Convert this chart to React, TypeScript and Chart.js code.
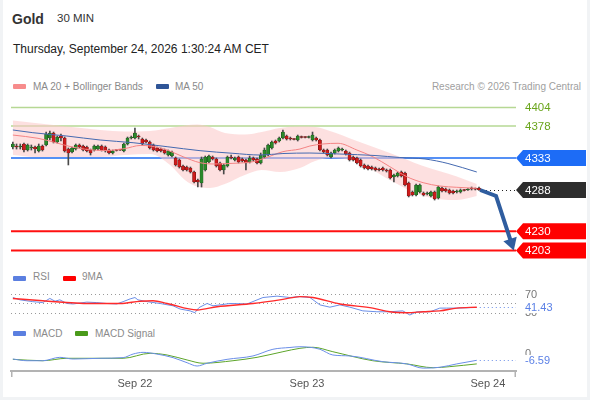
import React, { useEffect, useRef } from "react";
import { Chart, registerables } from "chart.js";

Chart.register(...registerables);

const FONT = "'Liberation Sans', Arial, Helvetica, sans-serif";

// ---------- Candles (30 MIN) ----------
const opens = [
  4348.5, 4349.9, 4348.5, 4352.7, 4344.2, 4347.1, 4348.5, 4342.8, 4349.9, 4351.3,
  4361.1, 4368.1, 4355.5, 4363.9, 4361.1, 4345.6, 4341.4, 4345.6, 4351.3, 4349.9,
  4348.5, 4344.2, 4344.2, 4345.6, 4349.9, 4348.5, 4344.2, 4340.0, 4344.2, 4344.2,
  4342.8, 4352.7, 4361.1, 4361.1, 4363.9, 4359.7, 4358.3, 4355.5, 4351.3, 4347.1,
  4345.6, 4344.2, 4337.2, 4335.8, 4333.0, 4330.2, 4321.7, 4320.3, 4318.9, 4313.3,
  4302.1, 4297.8, 4316.1, 4327.4, 4334.4, 4331.6, 4326.0, 4316.1, 4321.7, 4334.4,
  4330.2, 4334.4, 4331.6, 4330.2, 4327.4, 4333.0, 4331.6, 4326.0, 4334.4, 4337.2,
  4347.1, 4356.9, 4356.9, 4361.1, 4363.9, 4361.1, 4359.7, 4358.3, 4362.5, 4362.5,
  4361.8, 4358.3, 4361.1, 4358.3, 4344.2, 4344.2, 4334.4, 4340.0, 4342.8, 4344.2,
  4342.8, 4340.0, 4334.4, 4333.0, 4330.2, 4323.2, 4321.7, 4320.3, 4318.9, 4317.5,
  4318.9, 4316.1, 4316.1, 4306.3, 4307.7, 4313.3, 4311.9, 4297.8, 4285.2, 4281.0,
  4285.2, 4283.8, 4282.4, 4279.6, 4285.2, 4276.8, 4290.8, 4289.4, 4288.0, 4286.6,
  4285.2, 4285.2, 4288.0, 4288.0, 4290.8, 4289.4, 4290.8,
];
const highs = [
  4355.5, 4352.7, 4352.7, 4354.1, 4352.7, 4351.3, 4349.9, 4352.7, 4351.3, 4369.5,
  4371.0, 4369.5, 4363.9, 4366.7, 4362.5, 4347.1, 4348.5, 4352.7, 4352.7, 4351.3,
  4349.9, 4345.6, 4351.3, 4351.3, 4351.3, 4349.9, 4345.6, 4344.2, 4344.9, 4344.9,
  4354.1, 4362.5, 4363.9, 4375.2, 4365.3, 4361.1, 4359.7, 4356.9, 4352.7, 4348.5,
  4347.1, 4345.6, 4344.2, 4342.8, 4334.4, 4331.6, 4323.2, 4321.7, 4320.3, 4314.7,
  4303.5, 4334.4, 4335.8, 4337.2, 4335.8, 4333.0, 4327.4, 4324.6, 4335.8, 4337.2,
  4334.4, 4335.8, 4333.0, 4331.6, 4335.8, 4334.4, 4333.0, 4340.0, 4347.1, 4352.7,
  4356.9, 4358.3, 4362.5, 4372.4, 4365.3, 4362.5, 4360.4, 4365.3, 4363.9, 4363.2,
  4363.9, 4369.5, 4362.5, 4359.7, 4345.6, 4345.6, 4341.4, 4345.6, 4348.5, 4347.1,
  4344.2, 4341.4, 4335.8, 4334.4, 4331.6, 4324.6, 4323.2, 4321.7, 4320.3, 4318.9,
  4320.3, 4317.5, 4317.5, 4310.5, 4313.3, 4314.7, 4313.3, 4299.2, 4286.6, 4296.4,
  4296.4, 4285.2, 4285.2, 4286.6, 4286.6, 4293.6, 4292.2, 4290.8, 4289.4, 4288.0,
  4288.0, 4289.4, 4288.7, 4290.1, 4292.2, 4290.8, 4292.2,
];
const lows = [
  4345.6, 4345.6, 4345.6, 4341.4, 4342.8, 4344.2, 4340.0, 4341.4, 4342.8, 4349.9,
  4358.3, 4354.1, 4354.1, 4356.9, 4341.4, 4323.2, 4340.0, 4344.2, 4347.1, 4342.8,
  4341.4, 4337.2, 4342.8, 4344.2, 4342.8, 4341.4, 4338.6, 4338.6, 4342.8, 4343.5,
  4341.4, 4351.3, 4359.7, 4359.7, 4359.7, 4351.3, 4354.1, 4345.6, 4342.8, 4341.4,
  4341.4, 4338.6, 4335.8, 4334.4, 4321.7, 4318.9, 4314.7, 4314.7, 4311.9, 4297.8,
  4292.2, 4292.2, 4314.7, 4326.0, 4330.2, 4320.3, 4314.7, 4310.5, 4320.3, 4331.6,
  4328.8, 4326.0, 4327.4, 4316.1, 4326.0, 4328.8, 4324.6, 4324.6, 4333.0, 4335.8,
  4345.6, 4352.7, 4355.5, 4359.7, 4358.3, 4358.3, 4358.3, 4356.9, 4361.1, 4361.1,
  4361.1, 4356.9, 4356.9, 4342.8, 4340.0, 4335.8, 4333.0, 4338.6, 4341.4, 4342.8,
  4337.2, 4328.8, 4328.8, 4324.6, 4320.3, 4317.5, 4316.1, 4316.1, 4314.7, 4314.7,
  4314.7, 4313.3, 4303.5, 4299.2, 4306.3, 4306.3, 4293.6, 4278.2, 4279.6, 4279.6,
  4283.8, 4279.6, 4281.0, 4278.2, 4273.9, 4275.3, 4285.2, 4285.2, 4282.4, 4282.4,
  4283.8, 4283.8, 4286.6, 4287.3, 4288.0, 4288.0, 4287.3,
];
const closes = [
  4352.7, 4348.5, 4349.9, 4344.2, 4351.3, 4348.5, 4345.6, 4349.9, 4344.2, 4366.7,
  4368.1, 4355.5, 4362.5, 4361.1, 4342.8, 4340.0, 4347.1, 4351.3, 4348.5, 4344.2,
  4342.8, 4340.0, 4349.9, 4349.9, 4344.2, 4342.8, 4340.0, 4342.8, 4343.5, 4344.0,
  4352.7, 4361.1, 4362.5, 4368.1, 4362.5, 4352.7, 4355.5, 4347.1, 4344.2, 4342.8,
  4342.8, 4340.0, 4342.8, 4341.4, 4323.2, 4320.3, 4316.1, 4316.1, 4313.3, 4299.2,
  4299.2, 4331.6, 4334.4, 4335.8, 4331.6, 4321.7, 4316.1, 4323.2, 4334.4, 4333.0,
  4333.0, 4327.4, 4328.8, 4326.0, 4333.0, 4330.2, 4326.0, 4337.2, 4344.2, 4351.3,
  4355.5, 4354.1, 4361.1, 4369.5, 4359.7, 4359.7, 4359.0, 4363.9, 4361.8, 4361.8,
  4362.5, 4365.3, 4358.3, 4344.2, 4341.4, 4337.2, 4340.0, 4344.2, 4347.1, 4345.6,
  4338.6, 4330.2, 4330.2, 4326.0, 4321.7, 4318.9, 4317.5, 4317.5, 4316.1, 4316.1,
  4316.1, 4314.7, 4304.9, 4309.1, 4311.9, 4307.7, 4295.0, 4279.6, 4281.0, 4295.0,
  4295.0, 4281.0, 4283.8, 4285.2, 4275.3, 4292.2, 4286.6, 4286.6, 4283.8, 4283.8,
  4286.6, 4288.0, 4287.3, 4289.4, 4289.4, 4289.0, 4288.0,
];

// ---------- Moving averages & Bollinger bands (x = candle index) ----------
const ma20X = [0, 6.8, 11.4, 16, 20.3, 24.9, 30.3, 34.4, 37.1, 41.7, 46, 50.6, 54.1, 59.5, 64.9, 68.7, 73, 77.6, 80.3, 83.8, 87.9, 93, 97.3, 101.9, 106.5, 110.9, 115.4, 120, 125.4];
const ma20 = [4365.3, 4360.7, 4354.8, 4348.5, 4344.9, 4343.5, 4346.3, 4350.6, 4349.9, 4344.2, 4334.8, 4326.4, 4324.6, 4325.5, 4327.8, 4334.0, 4341.9, 4345.6, 4349.9, 4352.7, 4353.7, 4344.2, 4334.8, 4320.8, 4306.7, 4298.3, 4293.6, 4291.8, 4290.4];

const ma50X = [0, 5.4, 14.6, 23.6, 32.5, 41.7, 50.6, 59.5, 66.8, 73, 80.3, 88.4, 97.9, 104.6, 111.4, 117.6, 125.4];
const ma50 = [4372.4, 4368.6, 4363.9, 4358.3, 4354.5, 4348.9, 4343.3, 4339.6, 4337.2, 4339.3, 4340.0, 4338.6, 4336.5, 4333.7, 4331.6, 4325.3, 4313.3];

const bandX = [0, 6, 14.6, 23.6, 30.3, 37.1, 42.5, 46.5, 49.8, 53.3, 57.3, 62.7, 67.3, 72.2, 77.6, 81.7, 85.7, 93, 101.9, 110.9, 120, 125.4];
const bandUpper = [4385.7, 4382.2, 4377.3, 4372.4, 4370.3, 4371.0, 4375.2, 4378.7, 4380.1, 4376.6, 4368.1, 4366.0, 4369.5, 4375.2, 4377.3, 4376.6, 4371.0, 4356.9, 4340.0, 4321.7, 4307.0, 4296.4];
const bandLower = [4337.2, 4334.4, 4334.4, 4334.4, 4337.2, 4338.6, 4323.2, 4302.1, 4292.9, 4290.8, 4296.4, 4309.1, 4316.1, 4313.3, 4318.9, 4328.8, 4333.0, 4327.4, 4302.1, 4279.6, 4273.9, 4279.6];

// ---------- Levels & forecast ----------
const levelValues = [4404, 4378, 4333, 4288, 4230, 4203];
const levelTypes = ["resistance", "resistance", "pivot", "last", "support", "support"];
const forecastX = [126.3, 130.6, 135.4];
const forecastY = [4288, 4279.6, 4203];

// ---------- RSI ----------
const rsiX = [0, 1.9, 5.4, 8.1, 10, 11.4, 12.7, 14.6, 16.3, 20, 22.7, 25.4, 28.1, 29.8, 31.7, 33, 33.8, 36.3, 39.8, 43.3, 45.2, 47.9, 49.2, 50.3, 52.5, 54.1, 56, 58.7, 63.3, 67.6, 71.4, 74.9, 77.6, 80.3, 83, 85.7, 88.4, 91.1, 94.6, 98.4, 101.9, 105.4, 107.3, 109.2, 112.8, 115.4, 117.3, 120, 125.4];
const rsi = [63, 58, 54, 52, 61, 55, 58, 50, 49, 53, 52, 50, 49, 54, 60, 63, 58, 54, 50, 45, 38, 34, 30, 41, 50, 45, 47, 50, 49, 63, 66, 63, 65, 63, 47, 42, 47, 42, 34, 32, 32, 34, 25, 32, 32, 40, 40, 40, 41.43];
const rsiMaX = [0, 8.1, 20.9, 29, 34.4, 37.9, 41.7, 49.8, 55.2, 64.9, 73, 77.6, 81.1, 88.4, 97.3, 101.9, 106.5, 110.9, 115.4, 120, 125.4];
const rsiMa = [61, 56, 50, 50, 55, 56, 50, 36, 43, 50, 59, 65, 63, 49, 40, 32, 30, 32, 34, 40, 42];
const rsiGuides = [70, 50, 30];
const rsiAxisLabels = [70, 30];

// ---------- MACD ----------
const macdX = [0, 3.8, 8.1, 12.7, 16.3, 23.6, 29.8, 32.5, 35.2, 38.9, 43.3, 47.1, 49.8, 52.5, 57.9, 64.9, 70.3, 74.9, 77.6, 80.3, 83, 86.5, 91.1, 100, 106.5, 110.9, 115.4, 120, 125.4];
const macd = [-5.4, -7, -7, -3.8, -5.4, -4.7, -4.1, -0.7, 0.9, -0.7, -4.1, -8.9, -12, -9.4, -5.7, -2.5, 3.8, 5.5, 6.2, 5.7, 3.8, -1.6, -2.5, -7.9, -10, -14, -13.2, -10, -6.59];
const signalX = [0, 8.1, 14.6, 29.8, 37.1, 41.7, 47.1, 51.4, 59.5, 66, 73, 77.6, 81.1, 86.5, 97.3, 106.5, 113.6, 118.1, 125.4];
const signal = [-5.7, -7, -4.7, -4.7, 0, -1.6, -6.3, -9.4, -7, -3.8, 1.5, 4.7, 5.7, 1.5, -7, -10, -13.6, -12.6, -10];
const macdAxisLabels = [0];

// ---------- X axis ----------
const dayTickPos = [33, 79.5, 128.4];
const dayTickLabels = ["Sep 22", "Sep 23", "Sep 24"];

const X_MIN = -0.5;
const X_MAX = 136;

const pts = (xs: number[], ys: number[]) => xs.map((x, i) => ({ x, y: ys[i] }));

const LEVEL_STYLE: any = {
  resistance: { line: "#b6d894", width: 1.3, text: "#6aa51c", box: null },
  pivot: { line: "#5590f5", width: 2, text: "#ffffff", box: "#1d6cf6" },
  last: { line: null, width: 0, text: "#ffffff", box: "#2d2d2d" },
  support: { line: "#ff1010", width: 2, text: "#ffffff", box: "#ff0000" },
};

const UP = "#2a8a2a";
const DOWN = "#cf1b1b";
const UP_EDGE = "#1d4f1d";
const DOWN_EDGE = "#6e1414";
const BLUE_IND = "#6a8ee8";
const LABEL_GRAY = "#777777";

function drawBoxLabel(ctx: CanvasRenderingContext2D, x0: number, y: number, text: string, bg: string, fg: string) {
  const h = 16;
  ctx.fillStyle = bg;
  ctx.beginPath();
  ctx.moveTo(x0, y);
  ctx.lineTo(x0 + 7, y - h / 2);
  ctx.lineTo(586, y - h / 2);
  ctx.lineTo(586, y + h / 2);
  ctx.lineTo(x0 + 7, y + h / 2);
  ctx.closePath();
  ctx.fill();
  ctx.fillStyle = fg;
  ctx.font = `11.5px ${FONT}`;
  ctx.textBaseline = "middle";
  ctx.textAlign = "left";
  ctx.fillText(text, 525, y + 0.5);
}

const mainPlugin = {
  id: "mainDecor",
  beforeDatasetsDraw(chart: any) {
    const { ctx, chartArea: a, scales } = chart;
    const y = scales.y;
    ctx.save();
    levelValues.forEach((v, i) => {
      const st = LEVEL_STYLE[levelTypes[i]];
      if (!st.line) return;
      const py = y.getPixelForValue(v);
      ctx.strokeStyle = st.line;
      ctx.lineWidth = st.width;
      ctx.beginPath();
      ctx.moveTo(a.left, py);
      ctx.lineTo(a.right, py);
      ctx.stroke();
    });
    ctx.restore();
  },
  afterDatasetsDraw(chart: any) {
    const { ctx, chartArea: a, scales } = chart;
    const x = scales.x;
    const y = scales.y;
    ctx.save();
    const lastIdx = closes.length - 1;
    const lastPx = x.getPixelForValue(lastIdx) + 3;
    const lastPy = Math.round(y.getPixelForValue(closes[lastIdx])) + 0.5;
    ctx.strokeStyle = "#222";
    ctx.lineWidth = 1;
    ctx.setLineDash([1, 3]);
    ctx.beginPath();
    ctx.moveTo(lastPx, lastPy);
    ctx.lineTo(a.right, lastPy);
    ctx.stroke();
    ctx.setLineDash([]);

    const P = forecastX.map((v, i) => [x.getPixelForValue(v), y.getPixelForValue(forecastY[i])]);
    const n = P.length;
    const [tx, ty] = P[n - 1];
    const [px, py] = P[n - 2];
    const dx = tx - px;
    const dy = ty - py;
    const len = Math.hypot(dx, dy);
    const ux = dx / len;
    const uy = dy / len;
    const headLen = 12;
    const headW = 7;
    const bx = tx - ux * headLen;
    const by = ty - uy * headLen;
    ctx.strokeStyle = "#2f5d9f";
    ctx.fillStyle = "#2f5d9f";
    ctx.lineWidth = 4;
    ctx.lineJoin = "miter";
    ctx.beginPath();
    ctx.moveTo(P[0][0], P[0][1]);
    for (let i = 1; i < n - 1; i++) ctx.lineTo(P[i][0], P[i][1]);
    ctx.lineTo(bx + ux, by + uy);
    ctx.stroke();
    ctx.beginPath();
    ctx.moveTo(tx, ty);
    ctx.lineTo(bx - uy * headW, by + ux * headW);
    ctx.lineTo(bx + uy * headW, by - ux * headW);
    ctx.closePath();
    ctx.fill();

    levelValues.forEach((v, i) => {
      const st = LEVEL_STYLE[levelTypes[i]];
      const py2 = y.getPixelForValue(v);
      if (st.box) {
        drawBoxLabel(ctx, a.right, py2, String(v), st.box, st.text);
      } else {
        ctx.fillStyle = st.text;
        ctx.font = `11.5px ${FONT}`;
        ctx.textBaseline = "middle";
        ctx.textAlign = "left";
        ctx.fillText(String(v), 525, py2 + 0.5);
      }
    });
    ctx.restore();
  },
};

function makeSubPlugin(id: string, guides: number[], axisLabels: number[], lastX: number, lastVal: number, lastText: string) {
  return {
    id,
    beforeDatasetsDraw(chart: any) {
      const { ctx, chartArea: a, scales } = chart;
      const y = scales.y;
      ctx.save();
      ctx.strokeStyle = "#9a9a9a";
      ctx.lineWidth = 1;
      ctx.setLineDash([1, 3]);
      guides.forEach((g) => {
        const py = Math.round(y.getPixelForValue(g)) + 0.5;
        ctx.beginPath();
        ctx.moveTo(a.left, py);
        ctx.lineTo(a.right, py);
        ctx.stroke();
      });
      ctx.restore();
    },
    afterDatasetsDraw(chart: any) {
      const { ctx, chartArea: a, scales } = chart;
      const x = scales.x;
      const y = scales.y;
      ctx.save();
      const py = Math.round(y.getPixelForValue(lastVal)) + 0.5;
      ctx.strokeStyle = BLUE_IND;
      ctx.lineWidth = 1;
      ctx.setLineDash([1, 3]);
      ctx.beginPath();
      ctx.moveTo(x.getPixelForValue(lastX) + 3, py);
      ctx.lineTo(a.right, py);
      ctx.stroke();
      ctx.setLineDash([]);
      ctx.font = `11px ${FONT}`;
      ctx.textBaseline = "middle";
      ctx.textAlign = "left";
      axisLabels.forEach((v) => {
        ctx.fillStyle = LABEL_GRAY;
        ctx.fillText(String(v), 525, y.getPixelForValue(v) + 0.5);
      });
      ctx.fillStyle = "#ffffff";
      ctx.fillRect(522, py - 5.5, 40, 11);
      ctx.fillStyle = "#5b80e6";
      ctx.fillText(lastText, 525, py + 0.5);
      ctx.restore();
    },
  };
}

const baseOptions = (yMin: number, yMax: number) => ({
  responsive: false,
  maintainAspectRatio: false,
  animation: false as const,
  devicePixelRatio: 1,
  events: [] as any[],
  layout: { padding: { left: 11, right: 74, top: 0, bottom: 0 } },
  plugins: { legend: { display: false }, tooltip: { enabled: false } },
  scales: {
    x: { type: "linear" as const, min: X_MIN, max: X_MAX, display: false, offset: false },
    y: { min: yMin, max: yMax, display: false },
  },
});

export default function App() {
  const mainRef = useRef<HTMLCanvasElement>(null);
  const rsiRef = useRef<HTMLCanvasElement>(null);
  const macdRef = useRef<HTMLCanvasElement>(null);

  useEffect(() => {
    Chart.defaults.font.family = FONT;
    const isUp = opens.map((o, i) => closes[i] >= o);
    const bodyColors = isUp.map((u) => (u ? UP : DOWN));
    const edgeColors = isUp.map((u) => (u ? UP_EDGE : DOWN_EDGE));

    const main = new Chart(mainRef.current as HTMLCanvasElement, {
      type: "bar",
      data: {
        datasets: [
          {
            type: "line",
            data: pts(bandX, bandUpper),
            borderWidth: 0,
            borderColor: "rgba(0,0,0,0)",
            pointRadius: 0,
            fill: "+1",
            backgroundColor: "rgba(251,198,198,0.55)",
            cubicInterpolationMode: "monotone",
            order: 10,
          } as any,
          {
            type: "line",
            data: pts(bandX, bandLower),
            borderWidth: 0,
            borderColor: "rgba(0,0,0,0)",
            pointRadius: 0,
            fill: false,
            cubicInterpolationMode: "monotone",
            order: 9,
          } as any,
          {
            type: "bar",
            data: lows.map((l, i) => ({ x: i, y: [l, highs[i]] })),
            backgroundColor: "#4a4a4a",
            barThickness: 1,
            grouped: false,
            order: 6,
          } as any,
          {
            type: "bar",
            data: opens.map((o, i) => ({ x: i, y: [o, closes[i]] })),
            backgroundColor: bodyColors,
            borderColor: edgeColors,
            borderWidth: 0.6,
            borderSkipped: false,
            barThickness: 3.2,
            minBarLength: 1,
            grouped: false,
            order: 5,
          } as any,
          {
            type: "line",
            data: pts(ma20X, ma20),
            borderColor: "#f48383",
            borderWidth: 1,
            pointRadius: 0,
            cubicInterpolationMode: "monotone",
            order: 3,
          } as any,
          {
            type: "line",
            data: pts(ma50X, ma50),
            borderColor: "#4469b0",
            borderWidth: 1,
            pointRadius: 0,
            cubicInterpolationMode: "monotone",
            order: 2,
          } as any,
        ],
      },
      options: baseOptions(4175.5, 4421.6) as any,
      plugins: [mainPlugin],
    });

    const rsiChart = new Chart(rsiRef.current as HTMLCanvasElement, {
      type: "line",
      data: {
        datasets: [
          { data: pts(rsiMaX, rsiMa), borderColor: "#ff2a2a", borderWidth: 1.4, pointRadius: 0, cubicInterpolationMode: "monotone" } as any,
          { data: pts(rsiX, rsi), borderColor: BLUE_IND, borderWidth: 1, pointRadius: 0, tension: 0 } as any,
        ],
      },
      options: baseOptions(9.78, 88.04) as any,
      plugins: [makeSubPlugin("rsiDecor", rsiGuides, rsiAxisLabels, rsiX[rsiX.length - 1], rsi[rsi.length - 1], rsi[rsi.length - 1].toFixed(2))],
    });

    const macdOpts: any = baseOptions(-16.7, 12.55);
    macdOpts.scales.x = {
      type: "linear",
      min: X_MIN,
      max: X_MAX,
      offset: false,
      display: true,
      position: "bottom",
      grid: { display: false, drawTicks: false },
      border: { display: true, color: "#b3b3b3", width: 2 },
      afterBuildTicks: (s: any) => {
        s.ticks = dayTickPos.map((v) => ({ value: v }));
      },
      afterFit: (s: any) => {
        s.height = 25;
      },
      ticks: {
        autoSkip: false,
        maxRotation: 0,
        padding: 6,
        color: "#555555",
        font: { size: 11, family: FONT },
        callback: (_v: any, i: number) => dayTickLabels[i],
      },
    };
    const axisEnds = {
      id: "axisEnds",
      afterDraw(chart: any) {
        const { ctx, chartArea: a } = chart;
        ctx.save();
        ctx.strokeStyle = "#b3b3b3";
        ctx.lineWidth = 1.5;
        [a.left + 0.75, a.right - 0.75].forEach((px) => {
          ctx.beginPath();
          ctx.moveTo(px, a.bottom);
          ctx.lineTo(px, a.bottom + 6);
          ctx.stroke();
        });
        ctx.restore();
      },
    };
    const macdChart = new Chart(macdRef.current as HTMLCanvasElement, {
      type: "line",
      data: {
        datasets: [
          { data: pts(macdX, macd), borderColor: BLUE_IND, borderWidth: 1, pointRadius: 0, cubicInterpolationMode: "monotone" } as any,
          { data: pts(signalX, signal), borderColor: "#5da52a", borderWidth: 1, pointRadius: 0, cubicInterpolationMode: "monotone" } as any,
        ],
      },
      options: macdOpts,
      plugins: [makeSubPlugin("macdDecor", [], macdAxisLabels, macdX[macdX.length - 1], macd[macd.length - 1], macd[macd.length - 1].toFixed(2)), axisEnds],
    });

    return () => {
      main.destroy();
      rsiChart.destroy();
      macdChart.destroy();
    };
  }, []);

  const abs = (left: number, top: number, extra: any = {}) => ({ position: "absolute" as const, left, top, whiteSpace: "nowrap" as const, ...extra });
  const swatch = (left: number, top: number, color: string) => (
    <div style={abs(left, top, { width: 13, height: 5, background: color, borderRadius: 1 })} />
  );
  const legendText = (left: number, top: number, text: string) => (
    <div style={abs(left, top, { fontSize: 10, lineHeight: "10px", color: "#8a8a8a" })}>{text}</div>
  );

  return (
    <div style={{ position: "fixed", left: 0, top: 0, width: 590, height: 400, background: "#f1f3f5", fontFamily: FONT, overflow: "hidden" }}>
      <div style={abs(3, 0, { width: 584, height: 397, background: "#ffffff" })} />
      <div style={abs(12, 12, { fontSize: 14, lineHeight: "14px", fontWeight: "bold", color: "#333" })}>Gold</div>
      <div style={abs(57, 13, { fontSize: 11.5, lineHeight: "11.5px", color: "#333" })}>30 MIN</div>
      <div style={abs(13, 43, { fontSize: 12, lineHeight: "12px", color: "#222" })}>Thursday, September 24, 2026 1:30:24 AM CET</div>

      {swatch(13, 84, "#f78c8c")}
      {legendText(33, 81.5, "MA 20 + Bollinger Bands")}
      {swatch(156, 84, "#2f5597")}
      {legendText(175, 81.5, "MA 50")}
      <div style={abs(0, 81.5, { width: 581, textAlign: "right", fontSize: 10, lineHeight: "10px", color: "#a0a0a0" })}>Research © 2026 Trading Central</div>

      {swatch(13, 276, "#5b7fe0")}
      {legendText(33, 272, "RSI")}
      {swatch(63, 276, "#ff0000")}
      {legendText(82, 272, "9MA")}

      {swatch(13, 331, "#5b7fe0")}
      {legendText(33, 329, "MACD")}
      {swatch(75, 331, "#4a9a1a")}
      {legendText(95, 329, "MACD Signal")}

      <canvas ref={mainRef} width={590} height={175} style={abs(0, 95, { width: 590, height: 175 })} />
      <canvas ref={rsiRef} width={590} height={36} style={abs(0, 286, { width: 590, height: 36 })} />
      <canvas ref={macdRef} width={590} height={56} style={abs(0, 340, { width: 590, height: 56 })} />
    </div>
  );
}
